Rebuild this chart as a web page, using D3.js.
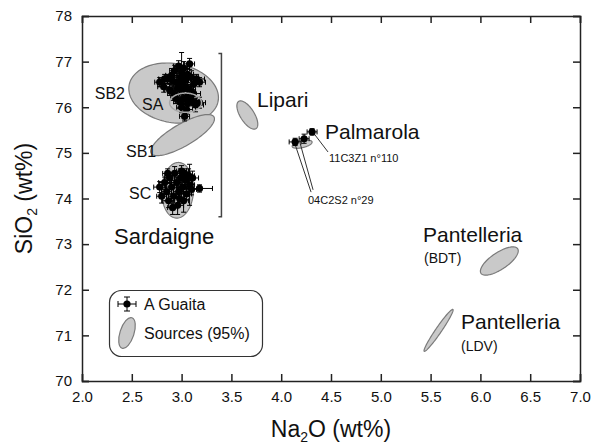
<!DOCTYPE html>
<html>
<head>
<meta charset="utf-8">
<script src="https://cdn.jsdelivr.net/npm/d3@7"></script>
<style>
  body { margin: 0; background: #fff; }
  svg text { font-family: "Liberation Sans", Arial, sans-serif; fill: #111; }
</style>
</head>
<body>
<div class="chart"></div>
<script>
// A Guaita obsidians: [Na2O, SiO2, ±Na2O, ±SiO2]
var guaitaSA = [
  [2.78, 76.55, 0.05, 0.10], [2.82, 76.45, 0.06, 0.12], [2.86, 76.62, 0.05, 0.10],
  [2.90, 76.70, 0.06, 0.15], [2.93, 76.80, 0.05, 0.12], [2.95, 76.55, 0.06, 0.15],
  [2.97, 76.90, 0.05, 0.12], [2.99, 76.65, 0.06, 0.20], [3.00, 76.75, 0.05, 0.45],
  [3.02, 76.85, 0.06, 0.15], [3.04, 76.60, 0.05, 0.12], [3.06, 76.72, 0.06, 0.18],
  [3.08, 76.95, 0.05, 0.12], [3.10, 76.65, 0.07, 0.15], [3.12, 76.50, 0.06, 0.12],
  [3.15, 76.62, 0.08, 0.10], [3.18, 76.55, 0.06, 0.10], [2.88, 76.38, 0.05, 0.12],
  [2.92, 76.30, 0.06, 0.15], [2.96, 76.42, 0.05, 0.12], [3.00, 76.35, 0.06, 0.15],
  [3.04, 76.45, 0.05, 0.10], [3.08, 76.38, 0.06, 0.12], [3.12, 76.30, 0.07, 0.15],
  [2.94, 76.20, 0.05, 0.12], [2.98, 76.12, 0.06, 0.15], [3.02, 76.18, 0.05, 0.12],
  [3.06, 76.08, 0.06, 0.15], [3.10, 76.15, 0.05, 0.12], [3.14, 76.05, 0.08, 0.15],
  [3.18, 76.10, 0.06, 0.12], [3.00, 76.00, 0.05, 0.12], [3.05, 75.95, 0.06, 0.10],
  [3.03, 75.80, 0.05, 0.10], [2.97, 76.50, 0.05, 0.10], [3.02, 76.58, 0.05, 0.10],
  [2.91, 76.58, 0.05, 0.10], [3.06, 76.25, 0.05, 0.10], [2.83, 76.62, 0.06, 0.10]
];
var guaitaSC = [
  [2.78, 74.25, 0.06, 0.12], [2.80, 74.05, 0.05, 0.15], [2.83, 74.35, 0.06, 0.12],
  [2.85, 74.15, 0.05, 0.20], [2.87, 73.95, 0.06, 0.15], [2.88, 74.45, 0.05, 0.12],
  [2.90, 74.25, 0.06, 0.15], [2.92, 74.05, 0.05, 0.25], [2.93, 74.55, 0.06, 0.15],
  [2.95, 74.35, 0.05, 0.12], [2.96, 73.85, 0.06, 0.20], [2.97, 74.15, 0.05, 0.15],
  [2.99, 74.45, 0.06, 0.20], [3.00, 74.60, 0.05, 0.12], [3.01, 74.25, 0.06, 0.15],
  [3.02, 73.95, 0.05, 0.25], [3.04, 74.40, 0.06, 0.15], [3.05, 74.10, 0.05, 0.12],
  [3.07, 74.50, 0.06, 0.15], [3.08, 74.30, 0.05, 0.45], [3.10, 74.20, 0.05, 0.12],
  [3.11, 74.45, 0.06, 0.15], [2.86, 74.55, 0.05, 0.10], [2.91, 73.80, 0.05, 0.15],
  [2.98, 74.00, 0.05, 0.10], [3.03, 74.55, 0.05, 0.10], [3.18, 74.22, 0.13, 0.08]
];
var guaitaPalmarola = [
  [4.14, 75.24, 0.06, 0.08], [4.23, 75.31, 0.05, 0.10], [4.31, 75.46, 0.05, 0.07]
];

// source fields, 95% ellipses: centre, half-extent on each axis, correlation
var sourceNames = ["SB2", "SB1", "SC", "Lipari", "Palmarola", "Pantelleria BDT", "Pantelleria LDV"];
var sourceNa    = [2.92, 3.01, 2.96, 3.66, 4.21, 6.19, 5.58];
var sourceSi    = [76.31, 75.39, 74.18, 75.83, 75.19, 72.63, 71.11];
var sourceHalfNa = [0.45, 0.32, 0.16, 0.105, 0.10, 0.19, 0.146];
var sourceHalfSi = [0.66, 0.45, 0.61, 0.31, 0.09, 0.31, 0.46];
var sourceRho   = [-0.15, 0.79, 0.05, -0.65, 0.5, 0.72, 0.97];
// SA sub-group outline
var saEllipse = [3.04, 76.10, 0.16, 0.21, 0.0];

var xTicks = [2.0, 2.5, 3.0, 3.5, 4.0, 4.5, 5.0, 5.5, 6.0, 6.5, 7.0];
var yTicks = [70, 71, 72, 73, 74, 75, 76, 77, 78];

var svgWidth = 594;
var svgHeight = 444;
var margin = { top: 16, right: 14, bottom: 63, left: 82 };
var width = svgWidth - margin.left - margin.right;
var height = svgHeight - margin.top - margin.bottom;

var svg = d3.select(".chart")
  .append("svg")
  .attr("width", svgWidth)
  .attr("height", svgHeight);

var chartGroup = svg.append("g")
  .attr("transform", `translate(${margin.left}, ${margin.top})`);

var x = d3.scaleLinear().domain([2, 7]).range([0, width]);
var y = d3.scaleLinear().domain([70, 78]).range([height, 0]);

// ellipse outline in data space, mapped through the scales
function ellipsePath(cx, cy, hx, hy, rho) {
  var pts = d3.range(0, 2 * Math.PI, Math.PI / 60).map(function(t) {
    var px = cx + hx * Math.cos(t);
    var py = cy + hy * (rho * Math.cos(t) + Math.sqrt(1 - rho * rho) * Math.sin(t));
    return [x(px), y(py)];
  });
  return d3.line().curve(d3.curveLinearClosed)(pts);
}

// sources
chartGroup.selectAll(".source")
  .data(sourceNames)
  .enter()
  .append("path")
  .attr("class", "source")
  .attr("d", function(d, i) {
    return ellipsePath(sourceNa[i], sourceSi[i], sourceHalfNa[i], sourceHalfSi[i], sourceRho[i]);
  })
  .attr("fill", "#c9c9c9")
  .attr("stroke", "#7a7a7a")
  .attr("stroke-width", 1.2);

// bracket for Sardaigne
var bx = x(3.4);
chartGroup.append("path")
  .attr("d", `M${bx - 3},${y(77.18)} H${bx} V${y(73.6)} H${bx - 3}`)
  .attr("fill", "none")
  .attr("stroke", "#444")
  .attr("stroke-width", 1.5);

// leader lines
var leaders = [
  [4.33, 75.42, 4.47, 75.02],
  [4.14, 75.18, 4.30, 74.14],
  [4.19, 75.21, 4.32, 74.19]
];
chartGroup.selectAll(".leader")
  .data(leaders)
  .enter()
  .append("line")
  .attr("x1", d => x(d[0])).attr("y1", d => y(d[1]))
  .attr("x2", d => x(d[2])).attr("y2", d => y(d[3]))
  .attr("stroke", "#333")
  .attr("stroke-width", 1);

// points with error bars
var allPoints = guaitaSA.concat(guaitaSC, guaitaPalmarola);
var cap = 2.5;
var pts = chartGroup.selectAll(".pt")
  .data(allPoints)
  .enter()
  .append("g")
  .attr("class", "pt");

pts.append("path")
  .attr("d", function(d) {
    var px = x(d[0]), py = y(d[1]);
    var x0 = x(d[0] - d[2]), x1 = x(d[0] + d[2]);
    var y0 = y(d[1] - d[3]), y1 = y(d[1] + d[3]);
    return `M${x0},${py}H${x1}M${px},${y0}V${y1}` +
      `M${x0},${py - cap}V${py + cap}M${x1},${py - cap}V${py + cap}` +
      `M${px - cap},${y0}H${px + cap}M${px - cap},${y1}H${px + cap}`;
  })
  .attr("stroke", "#000")
  .attr("stroke-width", 1)
  .attr("fill", "none");

pts.append("circle")
  .attr("cx", d => x(d[0]))
  .attr("cy", d => y(d[1]))
  .attr("r", 3.6)
  .attr("fill", "#000");

// SA outline drawn over the points
chartGroup.append("path")
  .attr("d", ellipsePath(saEllipse[0], saEllipse[1], saEllipse[2], saEllipse[3], saEllipse[4]))
  .attr("fill", "none")
  .attr("stroke", "#a8a8a8")
  .attr("stroke-width", 1.5);

// axes, ticks inward on all four sides
var fmt = d3.format(".1f");
chartGroup.append("g")
  .attr("transform", `translate(0, ${height})`)
  .call(d3.axisBottom(x).tickValues(xTicks).tickFormat(fmt).tickSize(-7).tickPadding(10));
chartGroup.append("g")
  .call(d3.axisLeft(y).tickValues(yTicks).tickSize(-7).tickPadding(10));
chartGroup.append("g")
  .call(d3.axisTop(x).tickValues(xTicks).tickFormat("").tickSize(-7));
chartGroup.append("g")
  .attr("transform", `translate(${width}, 0)`)
  .call(d3.axisRight(y).tickValues(yTicks).tickFormat("").tickSize(-7));

chartGroup.selectAll(".domain").attr("stroke", "#222").attr("stroke-width", 1.5);
chartGroup.selectAll(".tick line").attr("stroke", "#222").attr("stroke-width", 1.5);
chartGroup.selectAll(".tick text")
  .attr("font-size", 15)
  .attr("font-family", "'Liberation Sans', Arial, sans-serif")
  .attr("fill", "#222");

// axis titles
var yTitle = chartGroup.append("text")
  .attr("transform", `translate(${-margin.left + 32}, ${height / 2}) rotate(-90)`)
  .attr("text-anchor", "middle")
  .attr("font-size", 23);
yTitle.append("tspan").text("SiO");
yTitle.append("tspan").attr("font-size", 14).attr("dy", 5).text("2");
yTitle.append("tspan").attr("dy", -5).text(" (wt%)");

var xTitle = chartGroup.append("text")
  .attr("x", width / 2)
  .attr("y", height + 56)
  .attr("text-anchor", "middle")
  .attr("font-size", 23);
xTitle.append("tspan").text("Na");
xTitle.append("tspan").attr("font-size", 14).attr("dy", 5).text("2");
xTitle.append("tspan").attr("dy", -5).text("O (wt%)");

// annotations: text, x, y, size, anchor
var labels = [
  ["SB2", 125, 93, 16, "end"], ["SA", 142, 104, 16, "start"], ["SB1", 126, 151, 16, "start"],
  ["SC", 129, 193, 16, "start"],
  ["Sardaigne", 114, 236, 22, "start"], ["Lipari", 257, 100, 21, "start"],
  ["Palmarola", 325, 132, 21, "start"],
  ["11C3Z1 n°110", 329, 158, 11, "start"], ["04C2S2 n°29", 308, 200, 11, "start"],
  ["Pantelleria", 423, 235, 21, "start"], ["(BDT)", 424, 258, 14, "start"],
  ["Pantelleria", 461, 322, 21, "start"], ["(LDV)", 461, 346, 14, "start"]
];
svg.selectAll(".lbl")
  .data(labels)
  .enter()
  .append("text")
  .attr("class", "lbl")
  .attr("x", d => d[1])
  .attr("y", d => d[2])
  .attr("dy", "0.35em")
  .attr("font-size", d => d[3])
  .attr("text-anchor", d => d[4])
  .text(d => d[0]);

// legend
var legend = svg.append("g");
legend.append("rect")
  .attr("x", 109.5).attr("y", 290.5)
  .attr("width", 153).attr("height", 66)
  .attr("rx", 12)
  .attr("fill", "#fff")
  .attr("stroke", "#333")
  .attr("stroke-width", 1.2);
legend.append("path")
  .attr("d", "M118,304H136M118,301V307M136,301V307M127,297V311M124,297H130M124,311H130")
  .attr("stroke", "#000").attr("fill", "none");
legend.append("circle").attr("cx", 127).attr("cy", 304).attr("r", 3.6).attr("fill", "#000");
legend.append("ellipse")
  .attr("transform", "translate(127, 333) rotate(18)")
  .attr("rx", 7).attr("ry", 16)
  .attr("fill", "#c9c9c9").attr("stroke", "#7a7a7a").attr("stroke-width", 1.2);
legend.append("text").attr("x", 144).attr("y", 304).attr("dy", "0.35em")
  .attr("font-size", 16).text("A Guaita");
legend.append("text").attr("x", 144).attr("y", 333).attr("dy", "0.35em")
  .attr("font-size", 16).text("Sources (95%)");
</script>
</body>
</html>
